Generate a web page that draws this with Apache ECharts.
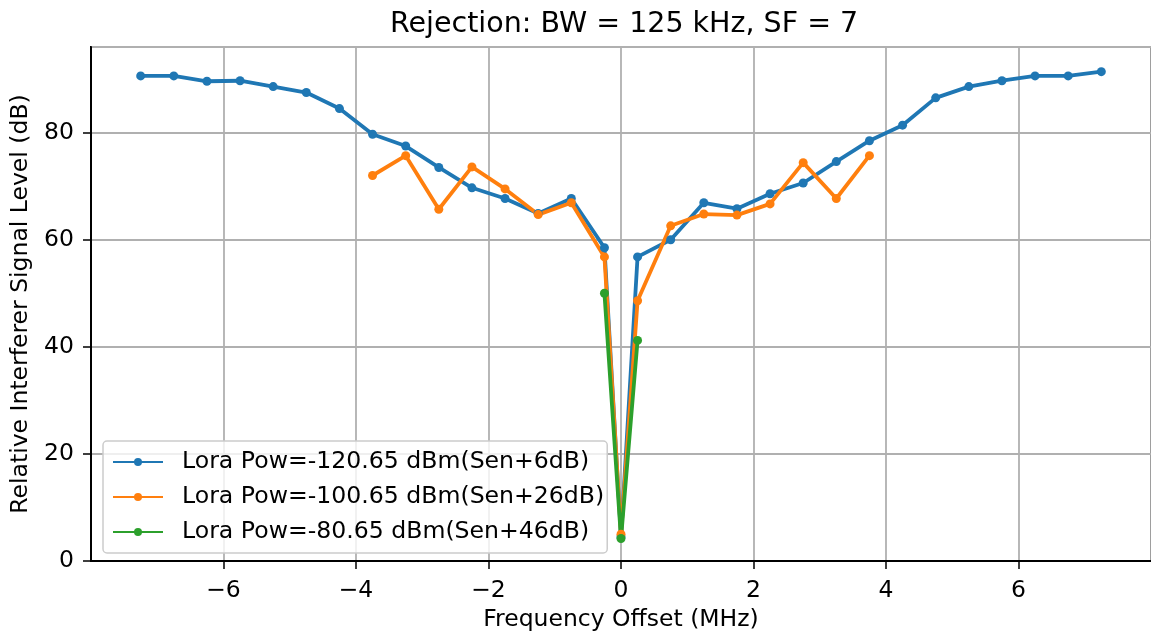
<!DOCTYPE html>
<html>
<head>
<meta charset="utf-8">
<script src="https://cdn.jsdelivr.net/npm/echarts@6/dist/echarts.min.js"></script>
<style>html,body{margin:0;padding:0;background:#fff}#c{width:1151px;height:637px}</style>
</head>
<body>
<div id="c"></div>
<script>
const titleText = 'Rejection: BW = 125 kHz, SF = 7';
const xName = 'Frequency Offset (MHz)';
const yName = 'Relative Interferer Signal Level (dB)';
const seriesNames = [
  'Lora Pow=-120.65 dBm(Sen+6dB)',
  'Lora Pow=-100.65 dBm(Sen+26dB)',
  'Lora Pow=-80.65 dBm(Sen+46dB)'
];
const blueX = [-7.25,-6.75,-6.25,-5.75,-5.25,-4.75,-4.25,-3.75,-3.25,-2.75,-2.25,-1.75,-1.25,-0.75,-0.25,0,
  0.25,0.75,1.25,1.75,2.25,2.75,3.25,3.75,4.25,4.75,5.25,5.75,6.25,6.75,7.25];
const blueY = [90.6,90.6,89.6,89.7,88.6,87.5,84.5,79.7,77.5,73.5,69.7,67.7,64.9,67.7,58.5,4.5,
  56.8,60.0,66.9,65.8,68.6,70.6,74.6,78.5,81.4,86.5,88.6,89.7,90.6,90.6,91.4];
const orangeX = [-3.75,-3.25,-2.75,-2.25,-1.75,-1.25,-0.75,-0.25,0,0.25,0.75,1.25,1.75,2.25,2.75,3.25,3.75];
const orangeY = [72.0,75.7,65.7,73.6,69.5,64.7,66.9,56.8,5.0,48.6,62.6,64.8,64.6,66.7,74.4,67.7,75.7];
const greenX = [-0.25,0,0.25];
const greenY = [50.0,4.2,41.2];
const colors = ['#1f77b4','#ff7f0e','#2ca02c'];

function pairs(xs, ys){ return xs.map((x,i)=>[x, ys[i]]); }
const FONT = 'DejaVu Sans';
const chart = echarts.init(document.getElementById('c'), null, {renderer:'canvas'});
const mk = (name, xs, ys, c) => ({
  name, type:'line', data: pairs(xs, ys), symbol:'circle', symbolSize:9,
  lineStyle:{color:c, width:3.8}, itemStyle:{color:c}, animation:false
});
chart.setOption({
  animation:false,
  backgroundColor:'#fff',
  title:{text:titleText, left:385, top:5,
    textStyle:{fontFamily:FONT, fontSize:28.5, fontWeight:'normal', color:'#000'}},
  grid:{left:91, top:47, width:1061, bottom:73, show:true, borderColor:'#000', borderWidth:2},
  legend:{
    orient:'vertical', left:103, top:441,
    data: seriesNames,
    itemWidth:50, itemHeight:10, itemGap:7,
    padding:[7,3,7,9],
    borderColor:'#cccccc', borderWidth:1.5, borderRadius:4,
    backgroundColor:'rgba(255,255,255,0.8)',
    textStyle:{fontFamily:FONT, fontSize:23.6, color:'#000', lineHeight:28, padding:[0,0,0,14]}
  },
  xAxis:{type:'value', min:-8, max:8, interval:2,
    name:xName, nameLocation:'middle', nameGap:47,
    nameTextStyle:{fontFamily:FONT, fontSize:23.5, color:'#000'},
    axisLine:{onZero:false, lineStyle:{color:'#000', width:2}},
    axisTick:{show:true, inside:false, length:8, lineStyle:{color:'#000', width:1.5}},
    axisLabel:{fontFamily:FONT, fontSize:23.5, color:'#000', margin:18, showMinLabel:false, showMaxLabel:false,
      formatter: v => (v<0 ? '\u2212'+Math.abs(v) : String(v))},
    splitLine:{show:true, lineStyle:{color:'#b0b0b0', width:1.8}}
  },
  yAxis:{type:'value', min:0, max:96, interval:20,
    name:yName, nameLocation:'middle', nameGap:55,
    nameTextStyle:{fontFamily:FONT, fontSize:23.5, color:'#000'},
    axisLine:{show:true, onZero:false, lineStyle:{color:'#000', width:2}},
    axisTick:{show:true, inside:false, length:8, lineStyle:{color:'#000', width:1.5}},
    axisLabel:{fontFamily:FONT, fontSize:23.5, color:'#000', margin:17, showMaxLabel:false},
    splitLine:{show:true, lineStyle:{color:'#b0b0b0', width:1.8}}
  },
  series:[
    mk(seriesNames[0], blueX, blueY, colors[0]),
    mk(seriesNames[1], orangeX, orangeY, colors[1]),
    mk(seriesNames[2], greenX, greenY, colors[2])
  ]
});
</script>
</body>
</html>
